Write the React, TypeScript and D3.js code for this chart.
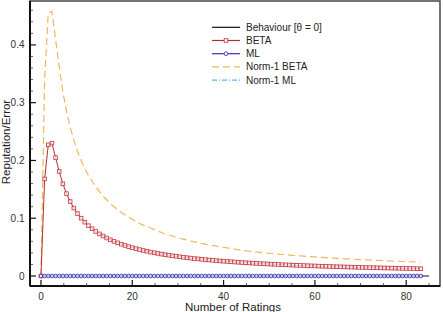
import * as d3 from "d3";

const W = 443;
const H = 312;
const M = { top: 1, right: 3, bottom: 26, left: 30 };

const X_STEP = 0.8;
const BEHAVIOUR_X = [0, 85];
const BEHAVIOUR_Y = [0, 0];

const BETA = [
  0, 0.168, 0.227, 0.23, 0.205, 0.181, 0.1595, 0.1426, 0.1289, 0.1176,
  0.1081, 0.1001, 0.0932, 0.0871, 0.0818, 0.0771, 0.0729, 0.0692, 0.0658, 0.0627,
  0.0599, 0.0574, 0.055, 0.0529, 0.0509, 0.049, 0.0473, 0.0457, 0.0442, 0.0428,
  0.0414, 0.0402, 0.039, 0.0379, 0.0369, 0.0359, 0.035, 0.0341, 0.0332, 0.0324,
  0.0317, 0.0309, 0.0302, 0.0296, 0.0289, 0.0283, 0.0277, 0.0272, 0.0266, 0.0261,
  0.0256, 0.0252, 0.0247, 0.0242, 0.0238, 0.0234, 0.023, 0.0226, 0.0222, 0.0219,
  0.0215, 0.0212, 0.0209, 0.0205, 0.0202, 0.0199, 0.0196, 0.0194, 0.0191, 0.0188,
  0.0186, 0.0183, 0.0181, 0.0178, 0.0176, 0.0174, 0.0171, 0.0169, 0.0167, 0.0165,
  0.0163, 0.0161, 0.0159, 0.0157, 0.0155, 0.0154, 0.0152, 0.015, 0.0149, 0.0147,
  0.0145, 0.0144, 0.0142, 0.0141, 0.0139, 0.0138, 0.0137, 0.0135, 0.0134, 0.0132,
  0.0131, 0.013, 0.0129, 0.0127, 0.0126,
];

const ML = [
  0, 0, 0, 0, 0, 0, 0, 0, 0, 0, 0, 0, 0, 0, 0, 0, 0, 0, 0, 0, 0,
  0, 0, 0, 0, 0, 0, 0, 0, 0, 0, 0, 0, 0, 0, 0, 0, 0, 0, 0, 0, 0,
  0, 0, 0, 0, 0, 0, 0, 0, 0, 0, 0, 0, 0, 0, 0, 0, 0, 0, 0, 0, 0,
  0, 0, 0, 0, 0, 0, 0, 0, 0, 0, 0, 0, 0, 0, 0, 0, 0, 0, 0, 0, 0,
  0, 0, 0, 0, 0, 0, 0, 0, 0, 0, 0, 0, 0, 0, 0, 0, 0, 0, 0, 0, 0,
];

const NORM_BETA = [
  0, 0.34, 0.455, 0.458, 0.41, 0.362, 0.319, 0.285, 0.258, 0.235,
  0.216, 0.2, 0.186, 0.174, 0.164, 0.154, 0.146, 0.138, 0.132, 0.125,
  0.12, 0.115, 0.11, 0.106, 0.102, 0.098, 0.095, 0.091, 0.088, 0.086,
  0.083, 0.0802, 0.0776, 0.0754, 0.0732, 0.0711, 0.0693, 0.0673, 0.0654, 0.0638,
  0.0623, 0.0606, 0.0592, 0.0579, 0.0564, 0.0552, 0.0539, 0.0528, 0.0516, 0.0505,
  0.0494, 0.0486, 0.0475, 0.0465, 0.0457, 0.0448, 0.0439, 0.0429, 0.0422, 0.0416,
  0.0409, 0.0403, 0.0397, 0.039, 0.0384, 0.0378, 0.0372, 0.0369, 0.0363, 0.0357,
  0.0353, 0.0348, 0.0344, 0.0338, 0.0334, 0.0331, 0.0325, 0.0321, 0.0317, 0.0314,
  0.031, 0.0306, 0.0302, 0.0298, 0.0295, 0.0293, 0.0289, 0.0285, 0.0283, 0.0279,
  0.0276, 0.0274, 0.027, 0.0268, 0.0264, 0.0262, 0.026, 0.0257, 0.0255, 0.0251,
  0.0249, 0.0247, 0.0245, 0.0241, 0.0239,
];

const NORM_ML = ML;

const X_TICKS = [0, 20, 40, 60, 80];
const X_MINOR = [5, 10, 15, 25, 30, 35, 45, 50, 55, 65, 70, 75, 85];
const Y_TICKS = [0, 0.1, 0.2, 0.3, 0.4];
const Y_MINOR = [0.02, 0.04, 0.06, 0.08, 0.12, 0.14, 0.16, 0.18, 0.22, 0.24, 0.26, 0.28, 0.32, 0.34, 0.36, 0.38, 0.42, 0.44, 0.46];

const LEGEND = [
  { label: "Behaviour [θ = 0]", color: "#111", dash: "", marker: "" },
  { label: "BETA", color: "#b3302c", dash: "", marker: "square" },
  { label: "ML", color: "#3535b5", dash: "", marker: "circle" },
  { label: "Norm-1 BETA", color: "#f2b65a", dash: "7 4", marker: "" },
  { label: "Norm-1 ML", color: "#5bb8e8", dash: "5 2 1 2", marker: "" },
];

const SQ_COLOR = "#c8434c";
const CIRC_COLOR = "#3535b5";
const FONT = "'Liberation Sans', Arial, Helvetica, sans-serif";

export default function App() {
  const x = d3.scaleLinear().domain([-2.4, 87.4]).range([M.left, W - M.right]);
  const y = d3.scaleLinear().domain([-0.0173, 0.476]).range([H - M.bottom, M.top]);
  const bottom = H - M.bottom;

  const pts = (vals: number[]) => vals.map((v, i) => [i * X_STEP, v] as [number, number]);
  const line = d3
    .line<[number, number]>()
    .x((d) => x(d[0]))
    .y((d) => y(d[1]));

  const betaPts = pts(BETA);
  const mlPts = pts(ML);
  const behPts = BEHAVIOUR_X.map((v, i) => [v, BEHAVIOUR_Y[i]] as [number, number]);

  return (
    <svg
      width={W}
      height={H}
      style={{ position: "absolute", left: 0, top: 0, background: "#fff" }}
      fontFamily={FONT}
    >
      {/* frame */}
      <rect x={M.left} y={M.top} width={W - M.right - M.left} height={bottom - M.top} fill="#fff" stroke="#444" strokeWidth={1.5} />
      <line x1={M.left} x2={M.left} y1={M.top} y2={bottom} stroke="#111" strokeWidth={2} />
      <line x1={M.left} x2={W - M.right} y1={bottom} y2={bottom} stroke="#111" strokeWidth={2} />

      {/* ticks */}
      {Y_TICKS.map((t) => (
        <g key={"y" + t}>
          <line x1={M.left} x2={M.left + 6} y1={y(t)} y2={y(t)} stroke="#111" strokeWidth={1.2} />
          <text x={24.5} y={y(t)} dy="0.35em" textAnchor="end" fontSize={10} fill="#333">
            {t === 0 ? "0" : t.toFixed(1)}
          </text>
        </g>
      ))}
      {Y_MINOR.map((t) => (
        <line key={"ym" + t} x1={M.left} x2={M.left + 3} y1={y(t)} y2={y(t)} stroke="#333" strokeWidth={0.8} />
      ))}
      {X_TICKS.map((t) => (
        <g key={"x" + t}>
          <line x1={x(t)} x2={x(t)} y1={bottom} y2={bottom - 6} stroke="#111" strokeWidth={1.2} />
          <text x={x(t)} y={299.5} textAnchor="middle" fontSize={10} fill="#333">
            {t}
          </text>
        </g>
      ))}
      {X_MINOR.map((t) => (
        <line key={"xm" + t} x1={x(t)} x2={x(t)} y1={bottom} y2={bottom - 3} stroke="#333" strokeWidth={0.8} />
      ))}

      {/* series */}
      <path d={line(behPts) ?? ""} fill="none" stroke={LEGEND[0].color} strokeWidth={1} />
      <path d={line(pts(NORM_ML)) ?? ""} fill="none" stroke={LEGEND[4].color} strokeWidth={1} strokeDasharray={LEGEND[4].dash} />
      <path d={line(pts(NORM_BETA)) ?? ""} fill="none" stroke={LEGEND[3].color} strokeWidth={1.2} strokeDasharray={LEGEND[3].dash} />
      <path d={line(betaPts) ?? ""} fill="none" stroke={LEGEND[1].color} strokeWidth={1} />
      {betaPts.map((d, i) => (
        <rect key={"b" + i} x={x(d[0]) - 1.8} y={y(d[1]) - 1.8} width={3.6} height={3.6} fill="#fff" fillOpacity={0.7} stroke={SQ_COLOR} strokeWidth={0.9} />
      ))}
      <path d={line(mlPts) ?? ""} fill="none" stroke={LEGEND[2].color} strokeWidth={1} />
      {mlPts.map((d, i) => (
        <circle key={"m" + i} cx={x(d[0])} cy={y(d[1])} r={1.85} fill="#fff" fillOpacity={0.7} stroke={CIRC_COLOR} strokeWidth={0.9} />
      ))}

      {/* legend */}
      {LEGEND.map((l, i) => {
        const ly = 27.3 + i * 13.2;
        return (
          <g key={l.label}>
            <line x1={212} x2={240} y1={ly} y2={ly} stroke={l.color} strokeWidth={1.2} strokeDasharray={l.dash} />
            {l.marker === "square" && (
              <rect x={224.2} y={ly - 1.8} width={3.6} height={3.6} fill="#fff" stroke={SQ_COLOR} strokeWidth={0.9} />
            )}
            {l.marker === "circle" && <circle cx={226} cy={ly} r={1.85} fill="#fff" stroke={CIRC_COLOR} strokeWidth={0.9} />}
            <text x={246} y={ly} dy="0.35em" fontSize={10} fill="#222">
              {l.label}
            </text>
          </g>
        );
      })}

      {/* axis titles */}
      <text transform={`translate(9.5,${142}) rotate(-90)`} textAnchor="middle" fontSize={11.5} fill="#222">
        Reputation/Error
      </text>
      <text x={233} y={311} textAnchor="middle" fontSize={11.5} fill="#222">
        Number of Ratings
      </text>
    </svg>
  );
}
